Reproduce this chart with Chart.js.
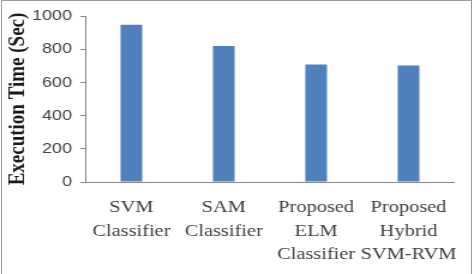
<!DOCTYPE html>
<html>
<head>
<meta charset="utf-8">
<script src="https://cdn.jsdelivr.net/npm/chart.js@4/dist/chart.umd.min.js"></script>
<style>
  html, body { margin: 0; padding: 0; background: #fff; }
  #frame {
    position: absolute; left: 1px; top: 0; width: 471px; height: 274px;
    border: 1px solid #9a9a9a; border-bottom: none; box-sizing: border-box;
  }
  /* the source picture is stretched sideways, so the chart is too */
  #stretch {
    position: absolute; left: 0; top: 0; width: 396px; height: 274px;
    transform: scaleX(1.2); transform-origin: 0 0;
  }
</style>
</head>
<body>
<div id="frame"></div>
<div id="stretch"><canvas id="chart"></canvas></div>
<script>
const categories = [
  ["SVM", "Classifier"],
  ["SAM", "Classifier"],
  ["Proposed", "ELM", "Classifier"],
  ["Proposed", "Hybrid", "SVM-RVM"]
];
const executionTimes = [947, 820, 708, 702];
const yTicks = [0, 200, 400, 600, 800, 1000];

const axisGrey = "#868686";
const textGrey = "#404040";

new Chart(document.getElementById("chart").getContext("2d"), {
  type: "bar",
  data: {
    labels: categories,
    datasets: [{
      data: executionTimes,
      backgroundColor: "#4f81bd",
      barPercentage: 0.235,
      categoryPercentage: 1
    }]
  },
  options: {
    responsive: true,
    maintainAspectRatio: false,
    animation: false,
    layout: { padding: { top: 13, right: 13, bottom: 0, left: 0 } },
    plugins: {
      legend: { display: false },
      tooltip: { enabled: false }
    },
    scales: {
      x: {
        grid: { drawOnChartArea: false, drawTicks: false },
        border: { color: axisGrey, width: 1 },
        ticks: {
          color: textGrey,
          padding: 14,
          maxRotation: 0,
          autoSkip: false,
          font: { family: "'Liberation Serif', serif", size: 17, lineHeight: 1.38 }
        },
        afterFit(scale) { scale.height = 92; }
      },
      y: {
        min: 0,
        max: 1000,
        afterBuildTicks(scale) { scale.ticks = yTicks.map(v => ({ value: v })); },
        grid: { drawOnChartArea: false, drawTicks: true, tickLength: 4, color: axisGrey },
        border: { color: axisGrey, width: 1 },
        ticks: {
          color: textGrey,
          padding: 7,
          callback: v => String(v),
          font: { family: "'Liberation Sans', sans-serif", size: 15 }
        },
        title: {
          display: true,
          text: "Execution Time (Sec)",
          color: "#1a1a1a",
          padding: { top: 4, bottom: 4 },
          font: { family: "'Liberation Serif', serif", size: 19, weight: "bold" }
        },
        afterFit(scale) { scale.width = 71; }
      }
    }
  }
});
</script>
</body>
</html>
